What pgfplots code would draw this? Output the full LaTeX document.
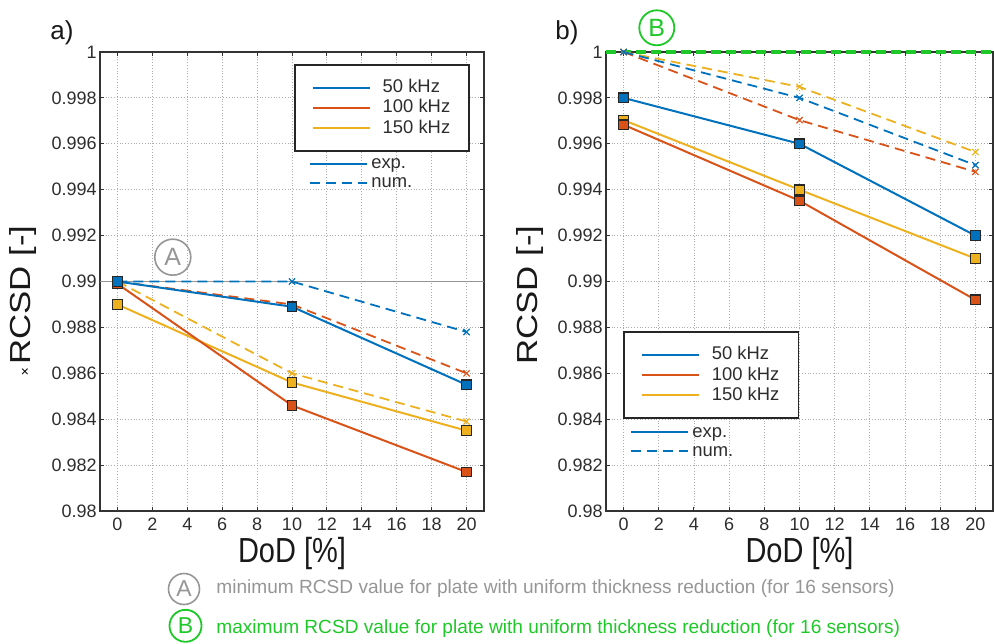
\documentclass[border=0pt]{standalone}
\usepackage{pgfplots}
\pgfplotsset{compat=1.18}
\usepackage{fontspec}
\setmainfont{Liberation Sans}
\definecolor{mblue}{rgb}{0,0.447,0.741}
\definecolor{morange}{rgb}{0.85,0.325,0.098}
\definecolor{myellow}{rgb}{0.929,0.694,0.125}
\definecolor{mgreen}{RGB}{30,200,40}
\definecolor{agray}{RGB}{150,150,150}
\definecolor{txt}{RGB}{45,45,45}

\pgfplotsset{
  mybase/.style={
    scale only axis, height=229.5pt,
    xmin=-1, xmax=21, ymin=0.98, ymax=1,
    xtick={0,2,4,6,8,10,12,14,16,18,20},
    ytick={0.98,0.982,0.984,0.986,0.988,0.99,0.992,0.994,0.996,0.998,1},
    grid=major,
    major grid style={densely dotted, gray!65, line width=0.45pt},
    tick align=inside, major tick length=2.2pt,
    tick style={black!80, line width=0.5pt},
    axis line style={black!80, line width=0.9pt},
    tick label style={font=\fontsize{9}{10}\selectfont, text=txt},
    /pgf/number format/assume math mode=true,
    yticklabel={\pgfmathprintnumber[fixed,precision=3]{\tick}},
    xticklabel={\pgfmathprintnumber{\tick}},
    yticklabel style={inner xsep=1.5pt},
    label style={font=\fontsize{14.5}{16}\selectfont, text=black!90},
    xlabel={DoD [\%]}, ylabel={RCSD [-]},
    xlabel style={at={(axis description cs:0.5,-0.113)}, anchor=base, yscale=1.2},
    legend image code/.code={\draw[#1] (0pt,0pt) -- (28.5pt,0pt);},
    legend cell align=left,
  },
  expl/.style={solid, line width=1pt, color=#1, mark=square*, mark size=2.4pt,
    mark options={solid, fill=#1, draw=black!85, line width=0.6pt}},
  numl/.style={line width=0.9pt, color=#1, dash pattern=on 5pt off 3pt,
    mark=x, mark size=2.2pt, mark options={solid, line width=0.6pt}},
  boxleg/.style={legend style={draw=black!85, line width=0.8pt, fill=white,
    inner xsep=8.5pt, inner ysep=6.3pt, column sep=5pt, row sep=0pt,
    font=\fontsize{9.2}{10}\selectfont, text=txt,
    nodes={inner sep=1pt, text height=6.6pt, text depth=1.6pt}}},
  smallleg/.style={hide axis, legend style={draw=none, fill=none,
    inner xsep=0pt, inner ysep=0pt, column sep=1pt, row sep=0.3pt,
    font=\fontsize{9.2}{10}\selectfont, text=txt,
    nodes={inner sep=0.5pt, text height=6.6pt, text depth=1.6pt}}},
}

\begin{document}
\begin{tikzpicture}
\useasboundingbox (0,0) rectangle (497pt,321.5pt);

% ---------------- a) ----------------
\begin{axis}[mybase, boxleg, width=192pt, at={(50pt,66pt)}, anchor=south west,
  ylabel style={at={(axis description cs:-0.2005,0.47)}, anchor=center, xscale=1.2},
  legend style={at={(0.505,0.974)}, anchor=north west}]
\addlegendimage{mblue, line width=1pt}\addlegendentry{50 kHz}
\addlegendimage{morange, line width=1pt}\addlegendentry{100 kHz}
\addlegendimage{myellow, line width=1pt}\addlegendentry{150 kHz}
\addplot[forget plot, agray, line width=0.6pt] coordinates {(-1,0.99) (21,0.99)};
% numerical
\addplot[forget plot, numl=myellow] coordinates {(0,0.990) (10,0.9860) (20,0.9839)};
\addplot[forget plot, numl=morange] coordinates {(0,0.990) (10,0.9890) (20,0.9860)};
\addplot[forget plot, numl=mblue]   coordinates {(0,0.990) (10,0.9900) (20,0.9878)};
% experimental
\addplot[forget plot, expl=myellow] coordinates {(0,0.9890) (10,0.9856) (20,0.9835)};
\addplot[forget plot, expl=morange] coordinates {(0,0.9899) (10,0.9846) (20,0.9817)};
\addplot[forget plot, expl=mblue]   coordinates {(0,0.9900) (10,0.9889) (20,0.98550)};
\node[circle, draw=agray, line width=0.8pt, minimum size=18pt, inner sep=0pt,
  text=agray, font=\fontsize{12.5}{13}\selectfont] at (axis cs:3.17,0.99106) {A};
\end{axis}
\begin{axis}[mybase, smallleg, width=192pt, at={(50pt,66pt)}, anchor=south west,
  legend style={at={(0.544,0.777)}, anchor=north west}]
\addplot[draw=none, forget plot] coordinates {(0,0.99)};
\addlegendimage{mblue, line width=1pt}\addlegendentry{exp.}
\addlegendimage{mblue, line width=1pt, dash pattern=on 5pt off 3pt}\addlegendentry{num.}
\end{axis}

% ---------------- b) ----------------
\begin{axis}[mybase, boxleg, width=193.5pt, at={(303pt,66pt)}, anchor=south west,
  clip=false,
  ylabel style={at={(axis description cs:-0.196,0.47)}, anchor=center, xscale=1.2},
  legend style={at={(0.044,0.392)}, anchor=north west}]
\addlegendimage{mblue, line width=1pt}\addlegendentry{50 kHz}
\addlegendimage{morange, line width=1pt}\addlegendentry{100 kHz}
\addlegendimage{myellow, line width=1pt}\addlegendentry{150 kHz}
\addplot[forget plot, mgreen, line width=1.6pt, dash pattern=on 5pt off 2.5pt] coordinates {(-1,1) (21,1)};
% numerical
\addplot[forget plot, numl=myellow] coordinates {(0,1.0) (10,0.99848) (20,0.99564)};
\addplot[forget plot, numl=morange] coordinates {(0,1.0) (10,0.99703) (20,0.99478)};
\addplot[forget plot, numl=mblue]   coordinates {(0,1.0) (10,0.99800) (20,0.99507)};
% experimental
\addplot[forget plot, expl=myellow] coordinates {(0,0.99703) (10,0.9940) (20,0.9910)};
\addplot[forget plot, expl=morange] coordinates {(0,0.99683) (10,0.99352) (20,0.9892)};
\addplot[forget plot, expl=mblue]   coordinates {(0,0.9980) (10,0.9960) (20,0.9920)};
\end{axis}
\begin{axis}[mybase, smallleg, width=193.5pt, at={(303pt,66pt)}, anchor=south west,
  legend style={at={(0.062,0.193)}, anchor=north west}]
\addplot[draw=none, forget plot] coordinates {(0,0.99)};
\addlegendimage{mblue, line width=1pt}\addlegendentry{exp.}
\addlegendimage{mblue, line width=1pt, dash pattern=on 5pt off 3pt}\addlegendentry{num.}
\end{axis}

% ---------------- annotations ----------------
\node[font=\fontsize{13}{14}\selectfont, text=black!90] at (31pt,305pt) {a)};
\node[font=\fontsize{13}{14}\selectfont, text=black!90] at (283.5pt,305pt) {b)};
\node[circle, draw=mgreen, line width=0.9pt, minimum size=17.5pt, inner sep=0pt,
  text=mgreen, font=\fontsize{12.5}{13}\selectfont] at (328.4pt,307.6pt) {B};
\node[font=\fontsize{7}{8}\selectfont, text=black] at (12.5pt,135pt) {×};

\node[circle, draw=agray, line width=0.8pt, minimum size=15.5pt, inner sep=0pt,
  text=agray, font=\fontsize{11.5}{12}\selectfont] at (92pt,27pt) {A};
\node[anchor=base west, inner sep=0pt, text=agray, font=\fontsize{9.55}{10}\selectfont]
  at (108pt,25pt) {minimum RCSD value for plate with uniform thickness reduction (for 16 sensors)};
\node[circle, draw=mgreen, line width=0.9pt, minimum size=16pt, inner sep=0pt,
  text=mgreen, font=\fontsize{11.5}{12}\selectfont] at (92.75pt,8.6pt) {B};
\node[anchor=base west, inner sep=0pt, text=mgreen, font=\fontsize{9.55}{10}\selectfont]
  at (108pt,5pt) {maximum RCSD value for plate with uniform thickness reduction (for 16 sensors)};
\end{tikzpicture}
\end{document}
